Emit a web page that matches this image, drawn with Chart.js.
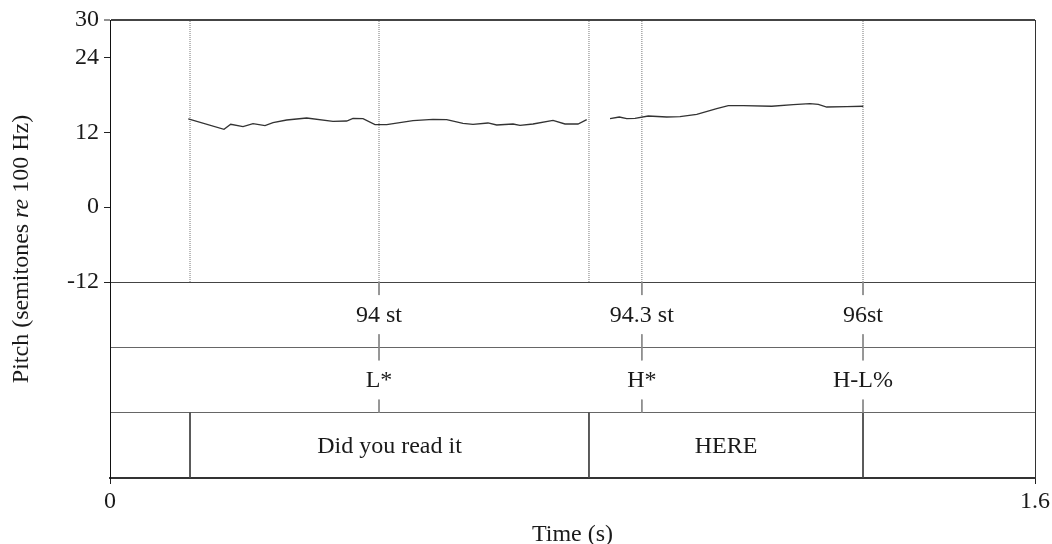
<!DOCTYPE html>
<html>
<head>
<meta charset="utf-8">
<script src="https://cdn.jsdelivr.net/npm/chart.js@4/dist/chart.umd.min.js"></script>
<style>
html,body{margin:0;padding:0;background:#fff;}
#wrap{width:1052px;height:544px;position:relative;}
</style>
</head>
<body>
<div id="wrap"><canvas id="c"></canvas></div>
<script>
// ---- data ----
const pitchTime1 = [0.1354,0.1972,0.2088,0.2301,0.2474,0.2681,0.2820,0.3056,0.3402,0.3857,0.4094,0.4203,0.4376,0.4584,0.4786,0.5241,0.5587,0.5824,0.6106,0.6279,0.6538,0.6689,0.6971,0.7092,0.7317,0.7663,0.7870,0.8095,0.8246];
const pitchSt1   = [14.13,12.48,13.28,12.90,13.38,13.06,13.54,13.97,14.29,13.76,13.81,14.24,14.18,13.22,13.22,13.86,14.08,14.02,13.44,13.28,13.49,13.17,13.33,13.12,13.33,13.92,13.33,13.33,14.02];
const pitchTime2 = [0.8649,0.8810,0.8938,0.9081,0.9311,0.9630,0.9860,1.0149,1.0494,1.0695,1.0955,1.1446,1.1819,1.2108,1.2252,1.2397,1.2743,1.3030];
const pitchSt2   = [14.18,14.45,14.18,14.24,14.61,14.45,14.50,14.88,15.78,16.26,16.26,16.17,16.42,16.58,16.49,16.05,16.10,16.17];

const markerTimes = [0.1384,0.4653,0.8285,0.9200,1.3025]; // dotted lines in pitch panel
const eventTimes  = [0.4653,0.9200,1.3025];               // pitch-target / tone points
const pointLabels = ['94 st','94.3 st','96st'];
const toneLabels  = ['L*','H*','H-L%'];
const wordBounds  = [0.1384,0.8285,1.3025];
const wordLabels  = ['Did you read it','HERE'];

const yTicks = [30,24,12,0,-12];
const xTicks = [0,1.6];
const yTitleParts = ['Pitch (semitones ','re',' 100 Hz)'];
const xTitle = 'Time (s)';

// ---- build ----
const FONT = "'Liberation Serif','Times New Roman',serif";
Chart.defaults.font.family = FONT;
Chart.defaults.font.size = 24;
Chart.defaults.color = '#1a1a1a';

const datasets = [];
datasets.push({data: pitchTime1.map((t,i)=>({x:t,y:pitchSt1[i]})), yAxisID:'y', borderColor:'#333', borderWidth:1.3, pointRadius:0, tension:0});
datasets.push({data: pitchTime2.map((t,i)=>({x:t,y:pitchSt2[i]})), yAxisID:'y', borderColor:'#333', borderWidth:1.3, pointRadius:0, tension:0});
markerTimes.forEach(t=>{
  datasets.push({data:[{x:t,y:-12},{x:t,y:30}], yAxisID:'y', borderColor:'#777', borderWidth:1, borderDash:[1,1], pointRadius:0});
});
eventTimes.forEach(t=>{
  datasets.push({data:[{x:t,y:3},{x:t,y:2.8}], yAxisID:'yt', borderColor:'#888', borderWidth:1, pointRadius:0});
  datasets.push({data:[{x:t,y:2.2},{x:t,y:2}], yAxisID:'yt', borderColor:'#888', borderWidth:1, pointRadius:0});
  datasets.push({data:[{x:t,y:2},{x:t,y:1.8}], yAxisID:'yt', borderColor:'#888', borderWidth:1, pointRadius:0});
  datasets.push({data:[{x:t,y:1.2},{x:t,y:1}], yAxisID:'yt', borderColor:'#888', borderWidth:1, pointRadius:0});
});
wordBounds.forEach(t=>{
  datasets.push({data:[{x:t,y:1},{x:t,y:0}], yAxisID:'yt', borderColor:'#444', borderWidth:1, pointRadius:0});
});

const tierText = {
  id:'tierText',
  afterDatasetsDraw(chart){
    const ctx = chart.ctx, xs = chart.scales.x, yt = chart.scales.yt;
    ctx.save();
    ctx.font = "24px " + FONT;
    ctx.fillStyle = '#1a1a1a';
    ctx.textAlign = 'center';
    ctx.textBaseline = 'middle';
    eventTimes.forEach((t,i)=>{
      ctx.fillText(pointLabels[i], xs.getPixelForValue(t), yt.getPixelForValue(2.5) + 1);
      ctx.fillText(toneLabels[i], xs.getPixelForValue(t), yt.getPixelForValue(1.5) + 1);
    });
    wordLabels.forEach((w,i)=>{
      const xm = (xs.getPixelForValue(wordBounds[i]) + xs.getPixelForValue(wordBounds[i+1]))/2;
      ctx.fillText(w, xm, yt.getPixelForValue(0.5) + 1);
    });
    ctx.restore();
  }
};

const yTitle = {
  id:'yTitle',
  afterDraw(chart){
    const ctx = chart.ctx, ca = chart.chartArea;
    ctx.save();
    ctx.fillStyle = '#1a1a1a';
    ctx.textBaseline = 'middle';
    ctx.textAlign = 'left';
    const fonts = ["24px "+FONT, "italic 24px "+FONT, "24px "+FONT];
    let widths = yTitleParts.map((p,i)=>{ctx.font = fonts[i]; return ctx.measureText(p).width;});
    const total = widths.reduce((a,b)=>a+b,0);
    ctx.translate(22, (ca.top+ca.bottom)/2);
    ctx.rotate(-Math.PI/2);
    let x = -total/2;
    yTitleParts.forEach((p,i)=>{ctx.font = fonts[i]; ctx.fillText(p, x, 0); x += widths[i];});
    ctx.restore();
  }
};

new Chart(document.getElementById('c'), {
  type:'line',
  data:{datasets},
  options:{
    responsive:true,
    maintainAspectRatio:false,
    animation:false,
    events:[],
    layout:{padding:{top:20,right:17,left:0,bottom:0}},
    plugins:{legend:{display:false}, tooltip:{enabled:false}},
    scales:{
      x:{
        type:'linear', min:0, max:1.6,
        afterBuildTicks(s){ s.ticks = xTicks.map(v=>({value:v})); },
        afterFit(s){ s.height = 66; s.paddingLeft = 0; s.paddingRight = 0; },
        ticks:{padding:6, maxRotation:0, callback:v=>String(v), font:{size:24, lineHeight:1}},
        grid:{drawOnChartArea:true, color:c=> c.tick && c.tick.value===1.6 ? '#333' : 'rgba(0,0,0,0)', tickColor:'#222', tickLength:6, lineWidth:1},
        border:{display:true, color:'#333', width:2},
        title:{display:true, text:xTitle, font:{size:24, lineHeight:0.8}, padding:{top:0,bottom:0}}
      },
      y:{
        type:'linear', position:'left', stack:'panel', stackWeight:262, weight:1,
        min:-12, max:30,
        afterBuildTicks(s){ s.ticks = yTicks.map(v=>({value:v})); },
        afterFit(s){ s.width = 110; s.paddingTop = 0; s.paddingBottom = 0; },
        ticks:{padding:5, callback:v=>String(v), font:{size:24, lineHeight:1}},
        grid:{drawOnChartArea:true,
          color:c=> c.tick && c.tick.value===30 ? '#444' : (c.tick && c.tick.value===-12 ? '#444' : 'rgba(0,0,0,0)'),
          lineWidth:c=> c.tick && c.tick.value===30 ? 2 : 1,
          tickColor:'#222', tickWidth:1, tickLength:6},
        border:{display:true, color:'#111', width:1}
      },
      yt:{
        type:'linear', position:'left', stack:'panel', stackWeight:196, weight:0,
        min:0, max:3,
        afterBuildTicks(s){ s.ticks = [0,1,2,3].map(v=>({value:v})); },
        afterFit(s){ s.width = 110; s.paddingTop = 0; s.paddingBottom = 0; },
        ticks:{display:false},
        grid:{drawOnChartArea:true, drawTicks:false,
          color:c=> c.tick && (c.tick.value===1 || c.tick.value===2) ? '#666' : 'rgba(0,0,0,0)'},
        border:{display:true, color:'#111', width:1}
      }
    }
  },
  plugins:[tierText, yTitle]
});
</script>
</body>
</html>
